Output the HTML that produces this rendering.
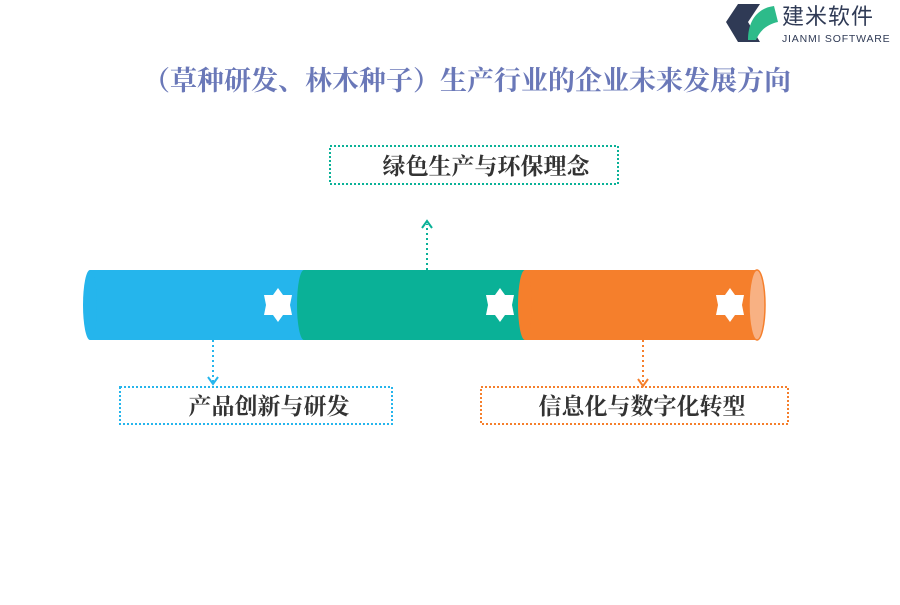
<!DOCTYPE html>
<html><head><meta charset="utf-8"><style>
body{margin:0;width:900px;height:600px;background:#fff;overflow:hidden;}
text.c{font-family:"Noto Serif CJK SC","Liberation Serif",serif;font-weight:bold;}
</style></head><body>
<svg width="900" height="600" viewBox="0 0 900 600" xmlns="http://www.w3.org/2000/svg">
<polygon points="738,4 760,4 748,22 760,42 738,42 726,22" fill="#2f3a55"/>
<path d="M748,40 C748,20 758,8 774,6 L778,22 C768,24 760,30 756,40 Z" fill="#2dbb8a"/>
<text x="782" y="24" font-family="'Liberation Sans','Noto Sans CJK SC',sans-serif" font-size="22" fill="#2f3a55" letter-spacing="1">建米软件</text>
<text x="782" y="42" font-family="'Liberation Sans',sans-serif" font-size="10.5" fill="#2f3a55" letter-spacing="0.8">JIANMI SOFTWARE</text>
<text class="c" x="467" y="90" text-anchor="middle" font-size="27" fill="#6a78b8">（草种研发、林木种子）生产行业的企业未来发展方向</text>
<rect x="90" y="270" width="240" height="70" fill="#25b5ec"/>
<ellipse cx="90" cy="305" rx="7" ry="35" fill="#25b5ec"/>
<rect x="304" y="270" width="245" height="70" fill="#0ab197"/>
<ellipse cx="304" cy="305" rx="7" ry="35" fill="#0ab197"/>
<rect x="525" y="270" width="232" height="70" fill="#f57f2c"/>
<ellipse cx="525" cy="305" rx="7" ry="35" fill="#f57f2c"/>
<ellipse cx="757" cy="305" rx="8" ry="35" fill="#f8b183" stroke="#f57f2c" stroke-width="1.5"/>
<g fill="#fff">
<polygon points="278,288 283,295 292,295 290,305 292,315 283,315 278,322 273,315 264,315 266,305 264,295 273,295"/>
<polygon points="500,288 505,295 514,295 512,305 514,315 505,315 500,322 495,315 486,315 488,305 486,295 495,295"/>
<polygon points="730,288 735,295 744,295 742,305 744,315 735,315 730,322 725,315 716,315 718,305 716,295 725,295"/>
</g>
<line x1="427" y1="270" x2="427" y2="224" stroke="#0ab197" stroke-width="2" stroke-dasharray="2,3"/>
<polyline points="422,228 427,221 432,228" fill="none" stroke="#0ab197" stroke-width="2"/>
<line x1="213" y1="340" x2="213" y2="382" stroke="#25b5ec" stroke-width="2" stroke-dasharray="2,3"/>
<polyline points="208,377 213,384 218,377" fill="none" stroke="#25b5ec" stroke-width="2"/>
<line x1="643" y1="340" x2="643" y2="384" stroke="#f57f2c" stroke-width="2" stroke-dasharray="2,3"/>
<polyline points="638,379 643,386 648,379" fill="none" stroke="#f57f2c" stroke-width="2"/>
<rect x="330" y="146" width="288" height="38" fill="none" stroke="#0ab197" stroke-width="2" stroke-dasharray="2,2"/>
<text class="c" x="486" y="174" text-anchor="middle" font-size="23" fill="#333">绿色生产与环保理念</text>
<rect x="120" y="387" width="272" height="37" fill="none" stroke="#25b5ec" stroke-width="2" stroke-dasharray="2,2"/>
<text class="c" x="269" y="414" text-anchor="middle" font-size="23" fill="#333">产品创新与研发</text>
<rect x="481" y="387" width="307" height="37" fill="none" stroke="#f57f2c" stroke-width="2" stroke-dasharray="2,2"/>
<text class="c" x="642" y="414" text-anchor="middle" font-size="23" fill="#333">信息化与数字化转型</text>
</svg>
</body></html>
